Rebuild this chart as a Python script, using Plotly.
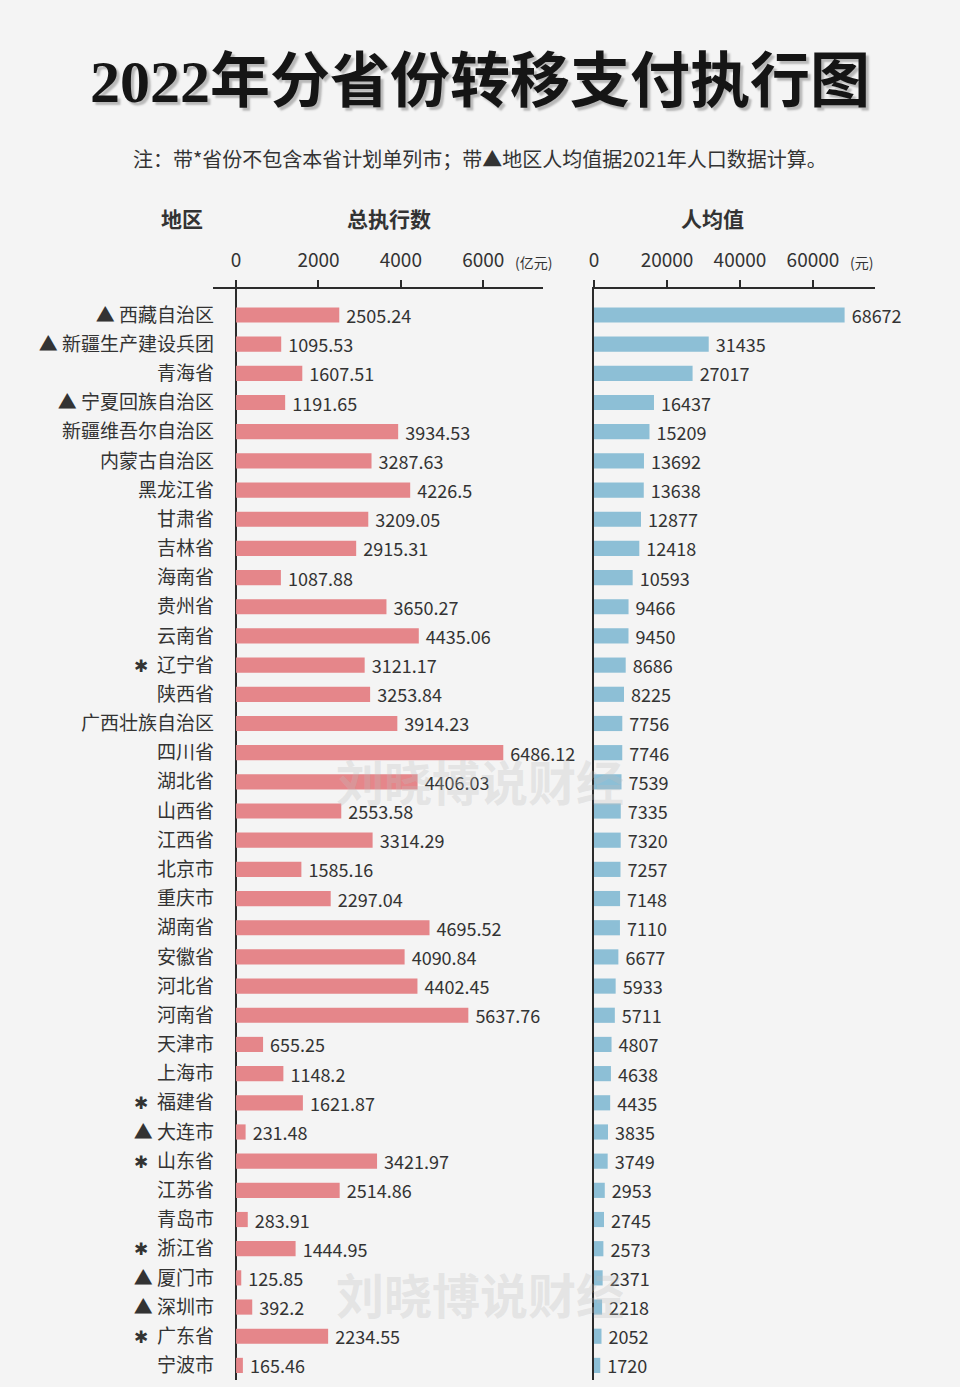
import plotly.graph_objects as go

regions = ["西藏自治区", "新疆生产建设兵团", "青海省", "宁夏回族自治区", "新疆维吾尔自治区",
           "内蒙古自治区", "黑龙江省", "甘肃省", "吉林省", "海南省", "贵州省", "云南省",
           "辽宁省", "陕西省", "广西壮族自治区", "四川省", "湖北省", "山西省", "江西省",
           "北京市", "重庆市", "湖南省", "安徽省", "河北省", "河南省", "天津市", "上海市",
           "福建省", "大连市", "山东省", "江苏省", "青岛市", "浙江省", "厦门市", "深圳市",
           "广东省", "宁波市"]
marks = ["▲", "▲", "", "▲", "", "", "", "", "", "", "", "",
         "*", "", "", "", "", "", "", "", "", "", "", "", "", "", "",
         "*", "▲", "*", "", "", "*", "▲", "▲", "*", ""]
total = [2505.24, 1095.53, 1607.51, 1191.65, 3934.53, 3287.63, 4226.5, 3209.05, 2915.31,
         1087.88, 3650.27, 4435.06, 3121.17, 3253.84, 3914.23, 6486.12, 4406.03, 2553.58,
         3314.29, 1585.16, 2297.04, 4695.52, 4090.84, 4402.45, 5637.76, 655.25, 1148.2,
         1621.87, 231.48, 3421.97, 2514.86, 283.91, 1444.95, 125.85, 392.2, 2234.55, 165.46]
per_capita = [68672, 31435, 27017, 16437, 15209, 13692, 13638, 12877, 12418, 10593, 9466,
              9450, 8686, 8225, 7756, 7746, 7539, 7335, 7320, 7257, 7148, 7110, 6677, 5933,
              5711, 4807, 4638, 4435, 3835, 3749, 2953, 2745, 2573, 2371, 2218, 2052, 1720]
left_ticks = [0, 2000, 4000, 6000]
right_ticks = [0, 20000, 40000, 60000]

W, H = 960, 1387
FONT = "Noto Sans CJK SC, Noto Sans, sans-serif"
DARK = "#2b2b2b"
idx = list(range(len(regions)))


def star(m):
    if m == "*":
        return '<span style="font-size:17px">✱</span>  '
    if m == "▲":
        return "▲ "
    return ""


ticktext = [star(m) + r for m, r in zip(marks, regions)]

fig = go.Figure()
fig.add_trace(go.Bar(
    x=total, y=idx, orientation="h", xaxis="x", yaxis="y",
    marker=dict(color="#E5868A", line_width=0),
    text=[" " + f"{v:g}" for v in total], textposition="outside", cliponaxis=False,
    constraintext="none",
    textfont=dict(size=18, color="#333333", family=FONT), showlegend=False,
))
fig.add_trace(go.Bar(
    x=per_capita, y=idx, orientation="h", xaxis="x2", yaxis="y2",
    marker=dict(color="#8DBFD6", line_width=0),
    text=[" " + str(v) for v in per_capita], textposition="outside", cliponaxis=False,
    constraintext="none",
    textfont=dict(size=18, color="#333333", family=FONT), showlegend=False,
))

ytop = (H - 289) / H
ybot = (H - 1380) / H
yrange = [36.5, -0.89]

fig.update_layout(
    width=W, height=H, margin=dict(l=0, r=0, t=0, b=0, autoexpand=False),
    paper_bgcolor="#F4F4F4", plot_bgcolor="rgba(0,0,0,0)",
    font=dict(family=FONT, color=DARK),
    bargap=0.48,
    xaxis=dict(domain=[213 / W, 543 / W], range=[-560, 7450], side="top",
               tickvals=left_ticks, ticktext=[str(t) for t in left_ticks],
               showgrid=False, showline=True, linecolor=DARK, linewidth=1.5,
               ticks="outside", ticklen=7, tickwidth=2, tickcolor=DARK,
               tickfont=dict(size=19, color="#333333"), ticklabelstandoff=6,
               zeroline=True, zerolinecolor=DARK, zerolinewidth=1.5, anchor="y",
               automargin=False),
    yaxis=dict(domain=[ybot, ytop], range=yrange, tickvals=idx, ticktext=ticktext,
               showgrid=False, showline=False, ticks="", zeroline=False,
               tickfont=dict(size=19, color="#333333"), anchor="x", ticklabelstandoff=-2,
               automargin=False),
    xaxis2=dict(domain=[594 / W, 875 / W], range=[0, 77000], side="top",
                tickvals=right_ticks, ticktext=[str(t) for t in right_ticks],
                showgrid=False, showline=True, linecolor=DARK, linewidth=1.5,
                ticks="outside", ticklen=7, tickwidth=2, tickcolor=DARK,
                tickfont=dict(size=19, color="#333333"), ticklabelstandoff=6,
                zeroline=False, anchor="y2", automargin=False),
    yaxis2=dict(domain=[ybot, ytop], range=yrange, showticklabels=False,
                showgrid=False, showline=True, linecolor=DARK, linewidth=1.5,
                ticks="", zeroline=False, anchor="x2", automargin=False),
)

annotations = [
    dict(text="<b>2022年分省份转移支付执行图</b>", x=480, y=82, size=60,
         family="Liberation Serif, Noto Sans CJK SC, serif", color="#151515",
         shadow="3px 3px 2px #b8b8b8"),
    dict(text="注：带*省份不包含本省计划单列市；带▲地区人均值据2021年人口数据计算。",
         x=480, y=158, size=20, family=FONT, color="#333333"),
    dict(text="<b>地区</b>", x=182, y=218, size=21, family=FONT, color="#333333"),
    dict(text="<b>总执行数</b>", x=389, y=218, size=21, family=FONT, color="#333333"),
    dict(text="<b>人均值</b>", x=712, y=218, size=21, family=FONT, color="#333333"),
    dict(text="(亿元)", x=533, y=262, size=14, family=FONT, color="#333333"),
    dict(text="(元)", x=861, y=262, size=14, family=FONT, color="#333333"),
    dict(text="<b>刘晓博说财经</b>", x=480, y=780, size=48, family=FONT,
         color="rgba(190,190,190,0.3)"),
    dict(text="<b>刘晓博说财经</b>", x=480, y=1293, size=48, family=FONT,
         color="rgba(190,190,190,0.3)"),
]
for a in annotations:
    fnt = dict(size=a["size"], family=a["family"], color=a["color"])
    if "shadow" in a:
        fnt["shadow"] = a["shadow"]
    fig.add_annotation(text=a["text"], x=a["x"] / W, y=(H - a["y"]) / H,
                       xref="paper", yref="paper", showarrow=False,
                       xanchor="center", yanchor="middle", font=fnt)

fig.write_html("out.html")
